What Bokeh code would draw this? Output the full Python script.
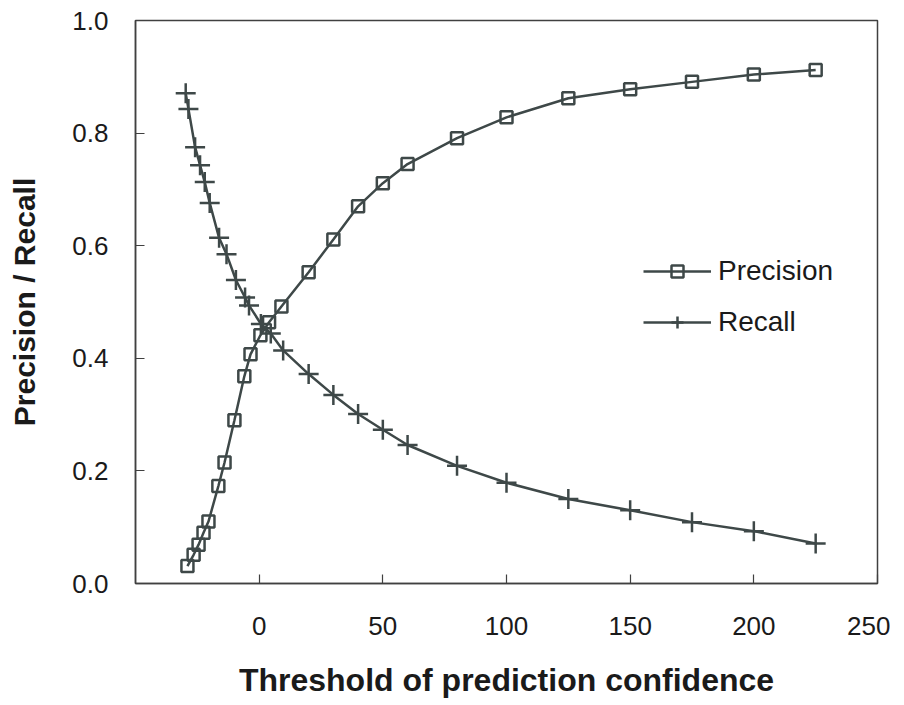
from bokeh.plotting import figure
from bokeh.models import Range1d, FixedTicker, Legend, LegendItem, PrintfTickFormatter
from bokeh.embed import file_html
from bokeh.resources import INLINE

# ---- data ----
prec_x = [-29, -26.5, -24.5, -22.5, -20.5, -16.5, -14, -10, -6, -3.5, 0.5, 4, 9,
          20, 30, 40, 50, 60, 80, 100, 125, 150, 175, 200, 225]
prec_y = [0.031, 0.051, 0.069, 0.090, 0.110, 0.173, 0.215, 0.290, 0.368, 0.407, 0.441, 0.464, 0.492,
          0.553, 0.611, 0.670, 0.711, 0.745, 0.791, 0.828, 0.862, 0.878, 0.891, 0.904, 0.912]

rec_x = [-29.7, -28.6, -25.9, -23.9, -22, -20, -16.2, -13.2, -9.4, -5.7, -4.1, 0.7, 4.7, 9.7,
         20, 30, 40, 50, 60, 80, 100, 125, 150, 175, 200, 225]
rec_y = [0.871, 0.843, 0.775, 0.743, 0.713, 0.676, 0.614, 0.585, 0.539, 0.508, 0.494, 0.461, 0.444, 0.414,
         0.372, 0.335, 0.301, 0.273, 0.246, 0.209, 0.179, 0.150, 0.130, 0.109, 0.093, 0.071]

x_ticks = [0, 50, 100, 150, 200, 250]
y_ticks = [0.0, 0.2, 0.4, 0.6, 0.8, 1.0]

x_title = "Threshold of prediction confidence"
y_title = "Precision / Recall"
series_names = ["Precision", "Recall"]

# ---- styling ----
COL = "#3e4848"
AX = "#404040"
FONT = "Liberation Sans"

W, H = 890, 700
p = figure(width=W, height=H, output_backend="svg", toolbar_location=None,
           x_range=Range1d(-50, 250), y_range=Range1d(0, 1),
           min_border_left=135, min_border_right=W - 877,
           min_border_top=20, min_border_bottom=H - 586)

p.xgrid.visible = False
p.ygrid.visible = False
p.outline_line_color = AX
p.outline_line_width = 1.5
p.background_fill_color = "white"
p.border_fill_color = "white"

for ax in (p.xaxis[0], p.yaxis[0]):
    ax.axis_line_color = AX
    ax.axis_line_width = 1.5
    ax.major_tick_line_color = AX
    ax.major_tick_line_width = 1.2
    ax.major_tick_in = 9
    ax.major_tick_out = 0
    ax.minor_tick_line_color = None
    ax.major_label_text_font = FONT
    ax.major_label_text_font_size = "26px"
    ax.major_label_text_color = "#1a1a1a"
    ax.axis_label_text_font = FONT
    ax.axis_label_text_font_style = "bold"
    ax.axis_label_text_color = "#1a1a1a"

p.xaxis.axis_label_text_font_size = "32px"
p.yaxis.axis_label_text_font_size = "30px"
p.xaxis.ticker = FixedTicker(ticks=x_ticks)
p.yaxis.ticker = FixedTicker(ticks=y_ticks)
p.yaxis.formatter = PrintfTickFormatter(format="%.1f")
p.xaxis.major_label_standoff = 33
p.yaxis.major_label_standoff = 27
p.xaxis.axis_label = x_title
p.yaxis.axis_label = y_title
p.xaxis.axis_label_standoff = 24
p.yaxis.axis_label_standoff = 28

pl = p.line(prec_x, prec_y, line_color=COL, line_width=2.5)
ps = p.scatter(prec_x, prec_y, marker="square", size=12, fill_color=None,
               line_color=COL, line_width=2.5)
rl = p.line(rec_x, rec_y, line_color=COL, line_width=2.5)
rs = p.scatter(rec_x, rec_y, marker="cross", size=20, line_color=COL, line_width=2.5)

legend = Legend(items=[LegendItem(label=series_names[0], renderers=[pl, ps]),
                       LegendItem(label=series_names[1], renderers=[rl, rs])],
                location=(508, 245), orientation="vertical")
legend.background_fill_alpha = 0
legend.border_line_color = None
legend.padding = 0
legend.margin = 0
legend.spacing = 19
legend.glyph_width = 68
legend.glyph_height = 30
legend.label_height = 30
legend.label_standoff = 7
legend.label_text_font = FONT
legend.label_text_font_size = "28px"
legend.label_text_color = "#1a1a1a"
p.add_layout(legend, "center")

open("out.html", "w").write(file_html(p, INLINE))
